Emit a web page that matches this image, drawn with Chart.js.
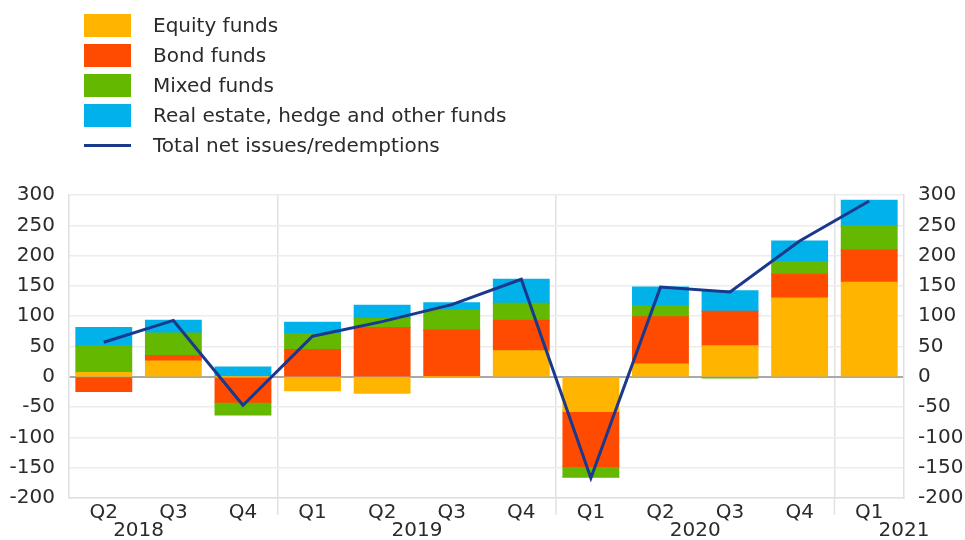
<!DOCTYPE html>
<html>
<head>
<meta charset="utf-8">
<script src="https://cdn.jsdelivr.net/npm/chart.js@4.4.1/dist/chart.umd.min.js"></script>
<style>
  html, body { margin: 0; padding: 0; background: #fff; }
  #wrap { position: relative; width: 965px; height: 540px; overflow: hidden; }
  #chart { position: absolute; left: 0; top: 0; }
  #legend { position: absolute; left: 0; top: 0; width: 600px; height: 170px;
            font-family: "DejaVu Sans", sans-serif; font-size: 20px; color: #2b2b2b; }
  .row { position: absolute; left: 84px; height: 30px; }
  .sw { position: absolute; left: 0; width: 47px; height: 23px; }
  .ln { position: absolute; left: 0; width: 47px; height: 3px; }
  .tx { position: absolute; left: 69px; white-space: nowrap; line-height: 23px; top: 0; }
</style>
</head>
<body>
<div id="wrap">
  <canvas id="chart" width="965" height="540"></canvas>
  <div id="legend"></div>
</div>
<script>
// ---- data (EUR billions) ----
const quarters   = ['Q2','Q3','Q4','Q1','Q2','Q3','Q4','Q1','Q2','Q3','Q4','Q1'];
const years      = ['2018','2019','2020','2021'];
const equity     = [7, 26, 0, -23, -27, 0, 43, -57, 21, 51, 130, 156];
const bond       = [-24, 9, -42, 45, 81, 77, 50, -91, 78, 57, 39, 53];
const mixed      = [44, 37, -21, 26, 15, 33, 28, -17, 18, -2, 21, 40];
const realEstate = [30, 21, 16, 19, 22, 12, 40, 0, 31, 34, 34, 42];
const total      = [57, 93, -47, 67, 91, 119, 161, -167, 148, 140, 224, 290];
const yTicks     = [-200, -150, -100, -50, 0, 50, 100, 150, 200, 250, 300];

const seriesNames = ['Equity funds', 'Bond funds', 'Mixed funds', 'Real estate, hedge and other funds', 'Total net issues/redemptions'];
const colors = { equity: '#FFB400', bond: '#FF4B00', mixed: '#65B800', re: '#00B1EA', line: '#1A388C' };

const FONT = "'DejaVu Sans', sans-serif";
const TXT = '#2b2b2b';
const GRID = '#ececec';
const SEP = '#e2e2e2';

// ---- legend (HTML text) ----
const legendItems = [
  { name: seriesNames[0], color: colors.equity, type: 'box' },
  { name: seriesNames[1], color: colors.bond, type: 'box' },
  { name: seriesNames[2], color: colors.mixed, type: 'box' },
  { name: seriesNames[3], color: colors.re, type: 'box' },
  { name: seriesNames[4], color: colors.line, type: 'line' }
];
const legend = document.getElementById('legend');
legendItems.forEach((it, i) => {
  const row = document.createElement('div');
  row.className = 'row';
  row.style.top = (14 + 30 * i) + 'px';
  const sw = document.createElement('div');
  if (it.type === 'box') { sw.className = 'sw'; sw.style.top = '0px'; }
  else { sw.className = 'ln'; sw.style.top = '10px'; }
  sw.style.background = it.color;
  const tx = document.createElement('div');
  tx.className = 'tx';
  tx.textContent = it.name;
  row.appendChild(sw); row.appendChild(tx);
  legend.appendChild(row);
});

// index of each year's Q1 (the first year began before the chart)
const yearStartIdx = [];
{
  const firstQ1 = quarters.indexOf('Q1');
  yearStartIdx.push(firstQ1 - 4);
  quarters.forEach((q, i) => { if (q === 'Q1') yearStartIdx.push(i); });
}

const yearLabels = {
  id: 'yearLabels',
  afterDraw(chart) {
    const x = chart.scales.x, area = chart.chartArea, ctx = chart.ctx;
    ctx.save();
    ctx.strokeStyle = SEP; ctx.lineWidth = 1.5;
    quarters.forEach((q, i) => {
      if (q === 'Q1' && i > 0) {
        const px = (x.getPixelForValue(i - 1) + x.getPixelForValue(i)) / 2;
        ctx.beginPath(); ctx.moveTo(px, area.bottom); ctx.lineTo(px, area.bottom + 17); ctx.stroke();
      }
    });
    ctx.fillStyle = TXT;
    ctx.font = '20px ' + FONT;
    ctx.textAlign = 'center';
    ctx.textBaseline = 'middle';
    const step = x.getPixelForValue(1) - x.getPixelForValue(0);
    years.forEach((yr, k) => {
      const centre = yearStartIdx[k] + 1.5;
      let px = x.getPixelForValue(0) + centre * step;
      px = Math.max(area.left, Math.min(area.right, px));
      ctx.fillText(yr, px, area.bottom + 33);
    });
    ctx.restore();
  }
};

const bar = (label, data, color) => ({
  type: 'bar', label, data, backgroundColor: color, borderWidth: 0, inflateAmount: 0.6,
  categoryPercentage: 0.8, barPercentage: 1.0, order: 1, yAxisID: 'y', stack: 'funds'
});

new Chart(document.getElementById('chart'), {
  data: {
    labels: quarters,
    datasets: [
      bar(seriesNames[0], equity, colors.equity),
      bar(seriesNames[1], bond, colors.bond),
      bar(seriesNames[2], mixed, colors.mixed),
      bar(seriesNames[3], realEstate, colors.re),
      { type: 'line', label: seriesNames[4], data: total, borderColor: colors.line,
        borderWidth: 3, pointRadius: 0, tension: 0, fill: false, order: 0,
        yAxisID: 'y', stack: 'total' }
    ]
  },
  options: {
    responsive: false,
    animation: false,
    devicePixelRatio: 1,
    layout: { padding: { top: 195, left: 0, right: 0, bottom: 0 } },
    plugins: { legend: { display: false }, tooltip: { enabled: false } },
    scales: {
      x: {
        type: 'category',
        stacked: true,
        offset: true,
        grid: {
          offset: true,
          drawTicks: false,
          lineWidth: 1.5,
          color: (ctx) => {
            const i = ctx.index;
            return (i > 0 && i < quarters.length && quarters[i] === 'Q1') ? SEP : 'rgba(0,0,0,0)';
          }
        },
        border: { display: true, color: '#e0e0e0', width: 1.5 },
        ticks: { color: TXT, font: { family: FONT, size: 20 }, padding: 3, maxRotation: 0, autoSkip: false },
        afterFit(scale) { scale.height = 42; }
      },
      y: {
        position: 'left',
        stacked: true,
        min: -200, max: 300,
        afterBuildTicks(scale) { scale.ticks = yTicks.map(v => ({ value: v })); },
        grid: {
          drawTicks: false,
          lineWidth: (ctx) => (ctx.tick && ctx.tick.value === 0) ? 2 : 1.5,
          color: (ctx) => (ctx.tick && ctx.tick.value === 0) ? '#a9a9a9' : GRID
        },
        border: { display: true, color: '#e0e0e0', width: 1.5 },
        ticks: { color: TXT, font: { family: FONT, size: 20 }, padding: 14 },
        afterFit(scale) { scale.width = 69; }
      },
      y2: {
        position: 'right',
        min: -200, max: 300,
        afterBuildTicks(scale) { scale.ticks = yTicks.map(v => ({ value: v })); },
        grid: { drawOnChartArea: false, drawTicks: false },
        border: { display: true, color: '#e0e0e0', width: 1.5 },
        ticks: { color: TXT, font: { family: FONT, size: 20 }, padding: 14 },
        afterFit(scale) { scale.width = 61; }
      }
    }
  },
  plugins: [yearLabels]
});
</script>
</body>
</html>
